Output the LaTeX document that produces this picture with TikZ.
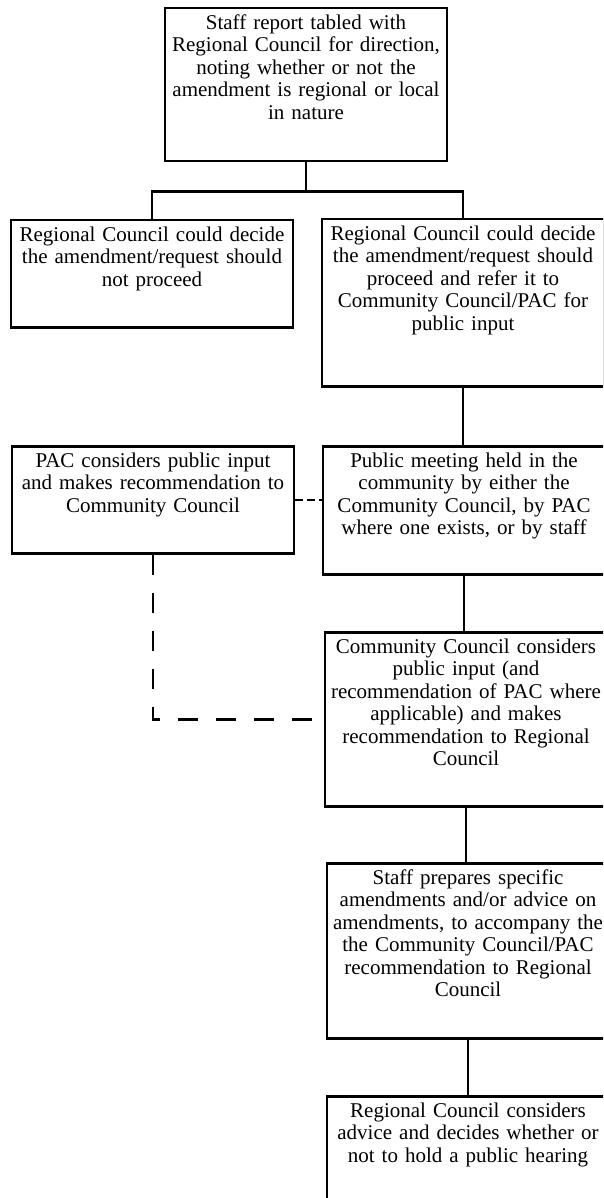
\documentclass[tikz,border=0pt]{standalone}
\usepackage{fontspec}
\setmainfont{Liberation Serif}
\usepackage{tikz}

\begin{document}
\begin{tikzpicture}[x=1pt, y=-1pt,
    stepbox/.style={draw, line width=2.5pt, anchor=north, text width=282pt, align=center,
        inner xsep=0pt, inner ysep=0pt, text height=21pt, font=\fontsize{21}{22.5}\selectfont},
    link/.style={line width=2.5pt},
    dashlink/.style={line width=2.5pt, dash pattern=on 20pt off 18pt},
    shortlink/.style={line width=2.5pt, dash pattern=on 8pt off 4pt}]
        \useasboundingbox (0,0) rectangle (603,1198);
        \clip (0,0) rectangle (603,1198);

        \node[stepbox, text depth=132pt] (report) at (306,7) {Staff report tabled with\\ Regional Council for direction,\\ noting whether or not the\\ amendment is regional or local\\ in nature};

        \node[stepbox, text depth=86pt] (nogo) at (152,219) {Regional Council could decide\\ the amendment/request should\\ not proceed};
        \node[stepbox, text depth=146pt] (go) at (463,218) {Regional Council could decide\\ the amendment/request should\\ proceed and refer it to\\ Community Council/PAC for\\ public input};

        \node[stepbox, text depth=86pt] (pac) at (153,445) {PAC considers public input\\ and makes recommendation to\\ Community Council};
        \node[stepbox, text depth=107pt] (meet) at (464,445) {Public meeting held in the\\ community by either the\\ Community Council, by PAC\\ where one exists, or by staff};

        \node[stepbox, text depth=153pt] (cc) at (466,631) {Community Council considers\\ public input (and\\ recommendation of PAC where\\ applicable) and makes\\ recommendation to Regional\\ Council};

        \node[stepbox, text depth=154pt] (staff) at (468,862) {Staff prepares specific\\ amendments and/or advice on\\ amendments, to accompany the\\ the Community Council/PAC\\ recommendation to Regional\\ Council};

        \node[stepbox, text depth=99pt] (rc) at (468,1095) {Regional Council considers\\ advice and decides whether or\\ not to hold a public hearing};

        \draw[link] (report.south) -- ++(0,29) coordinate (fork);
        \draw[link] (fork) -| (nogo.north);
        \draw[link] (fork) -| (go.north);

        \draw[link] (go.south) -- (go.south |- meet.north);
        \draw[link] (meet.south) -- (meet.south |- cc.north);
        \draw[link] (cc.south) -- (cc.south |- staff.north);
        \draw[link] (staff.south) -- (staff.south |- rc.north);

        \draw[shortlink] (pac.east) -- (pac.east -| meet.west);
        \draw[dashlink] (pac.south) |- (cc.west);
    \end{tikzpicture}
\end{document}
